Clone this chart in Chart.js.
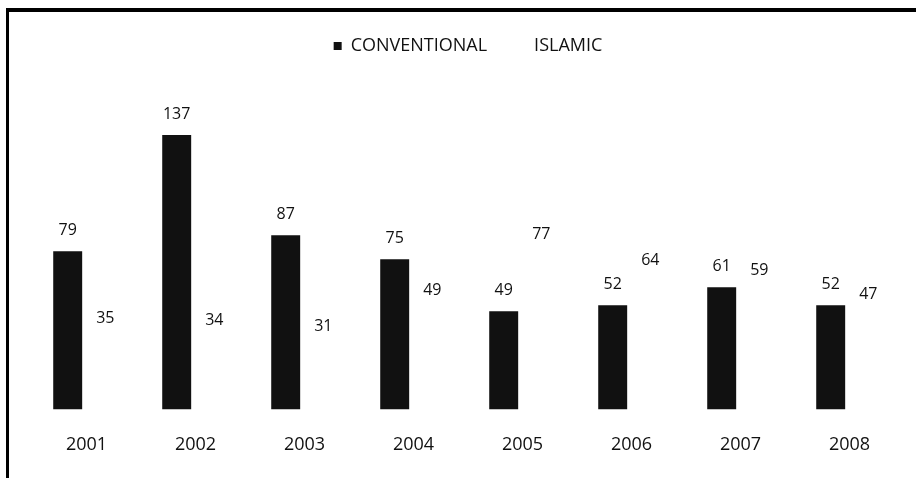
<!DOCTYPE html>
<html lang="en">
<head>
  <meta charset="UTF-8">
  <script src="https://cdn.jsdelivr.net/npm/chart.js@4.4.1/dist/chart.umd.min.js"></script>
  <title>Conventional vs Islamic</title>
  <style>
    html, body { margin: 0; padding: 0; background: #fff; }
    #wrap { position: relative; width: 916px; height: 478px; overflow: hidden; }
    #frame {
      position: absolute; left: 6px; top: 8px; width: 920px; height: 480px;
      border-top: 4px solid #000; border-left: 3px solid #000;
    }
    canvas { position: absolute; left: 0; top: 0; }
  </style>
</head>
<body>
  <div id="wrap">
    <div id="frame"></div>
    <canvas id="myChart" width="916" height="478"></canvas>
  </div>
  <script>
    const years = ['2001', '2002', '2003', '2004', '2005', '2006', '2007', '2008'];
    const conventional = [79, 137, 87, 75, 49, 52, 61, 52];
    const islamic = [35, 34, 31, 49, 77, 64, 59, 47];

    // values written above every bar
    const valueLabels = {
      id: 'valueLabels',
      afterDatasetsDraw(chart) {
        const ctx = chart.ctx;
        ctx.save();
        ctx.font = '16px "Open Sans"';
        ctx.fillStyle = '#111';
        ctx.textAlign = 'center';
        ctx.textBaseline = 'middle';
        chart.data.datasets.forEach((ds, i) => {
          chart.getDatasetMeta(i).data.forEach((bar, j) => {
            ctx.fillText(ds.data[j], bar.x, bar.y - 21);
          });
        });
        ctx.restore();
      }
    };

    const ctx = document.getElementById('myChart').getContext('2d');
    const myChart = new Chart(ctx, {
      type: 'bar',
      data: {
        labels: years,
        datasets: [
          {
            label: 'CONVENTIONAL',
            data: conventional,
            backgroundColor: '#111',
            borderWidth: 0
          },
          {
            label: 'ISLAMIC',
            data: islamic,
            backgroundColor: '#fff',
            borderWidth: 0
          }
        ]
      },
      options: {
        responsive: false,
        animation: false,
        devicePixelRatio: 1,
        categoryPercentage: 0.69,
        barPercentage: 0.77,
        layout: { padding: { top: 7, left: 32, right: 12, bottom: -3 } },
        plugins: {
          legend: {
            position: 'top',
            labels: {
              boxWidth: 8,
              boxHeight: 8,
              padding: 30,
              color: '#111',
              font: { family: 'Open Sans', size: 18 }
            }
          },
          tooltip: { enabled: false }
        },
        scales: {
          x: {
            grid: { display: false, drawTicks: false },
            border: { display: false },
            ticks: {
              padding: 25,
              color: '#111',
              font: { family: 'Open Sans', size: 18 }
            }
          },
          y: {
            display: false,
            min: 0,
            max: 172
          }
        }
      },
      plugins: [valueLabels]
    });
  </script>
</body>
</html>
